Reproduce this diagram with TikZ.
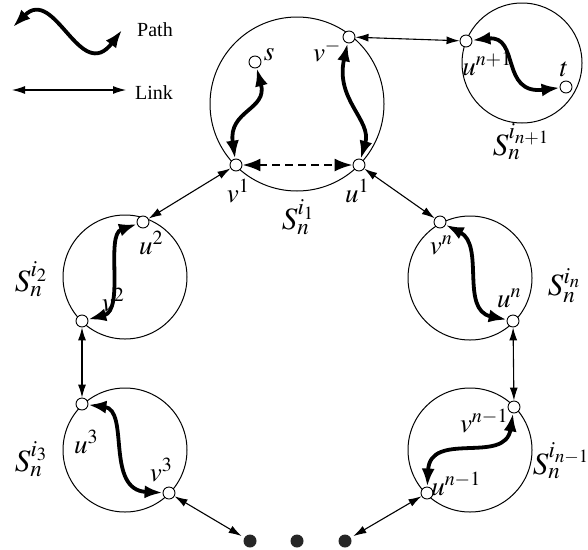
\documentclass[tikz,border=0pt]{standalone}
\usepackage{mathptmx}
\usepackage{fontspec}
\setmainfont{Liberation Serif}
\usetikzlibrary{arrows.meta}

\begin{document}
\begin{tikzpicture}[x=1pt, y=-1pt,
    vtx/.style={circle, draw, fill=white, line width=0.9pt, inner sep=0pt, minimum size=12pt},
    dotnode/.style={circle, fill=black!85, inner sep=0pt, minimum size=13pt},
    lnk/.style={line width=1.1pt, {Latex[length=13pt,width=8pt]}-{Latex[length=13pt,width=8pt]}},
    pth/.style={line width=3.8pt, {Latex[length=18pt,width=13pt]}-{Latex[length=18pt,width=13pt]}},
    lbl/.style={font=\fontsize{27}{29}\selectfont, inner sep=0pt},
    sub/.style={font=\fontsize{31}{33}\selectfont, inner sep=0pt},
    txt/.style={font=\fontsize{20}{22}\selectfont, inner sep=0pt, anchor=west}]
  \useasboundingbox (0,0) rectangle (588,549);

  % subgraphs
  \foreach \cx/\cy/\r in {297/104/87, 522/63/60, 125/277/62, 125/450/62, 470/278/62, 470/450/62}
    \draw[line width=1pt] (\cx,\cy) circle[radius=\r];

  % legend
  \coordinate (pathA) at (13,27);
  \coordinate (pathB) at (122,30);
  \coordinate (lnkA) at (12,90);
  \coordinate (lnkB) at (126,90);
  \draw[pth] (pathA) .. controls (55,-15) and (80,85) .. (pathB);
  \draw[lnk] (lnkA) -- (lnkB);
  \node[txt] (pathtxt) at (137,30) {Path};
  \node[txt] (linktxt) at (135,93) {Link};

  % vertices
  \node[vtx] (s) at (255,62) {};
  \node[vtx] (vm) at (349,37) {};
  \node[vtx] (v1) at (236,165) {};
  \node[vtx] (u1) at (359,165) {};
  \node[vtx] (unp) at (466,41) {};
  \node[vtx] (t) at (566,87) {};
  \node[vtx] (u2) at (143,222) {};
  \node[vtx] (v2) at (82,321) {};
  \node[vtx] (u3) at (82,404) {};
  \node[vtx] (v3) at (169,493) {};
  \node[vtx] (vn) at (440,222) {};
  \node[vtx] (un) at (513,321) {};
  \node[vtx] (vnm) at (514,407) {};
  \node[vtx] (unm) at (427,493) {};
  \node[dotnode] (d1) at (250,541) {};
  \node[dotnode] (d2) at (297,541) {};
  \node[dotnode] (d3) at (345,541) {};

  % labels
  \node[lbl] (ls) at (269,55) {$s$};
  \node[lbl] (lvm) at (327,51) {$v^{-}$};
  \node[lbl] (lv1) at (238,191) {$v^{1}$};
  \node[lbl] (lu1) at (357,191) {$u^{1}$};
  \node[sub] (lS1) at (298,217) {$S_n^{i_1}$};
  \node[lbl] (lunp) at (487,64) {$u^{n+1}$};
  \node[lbl] (lt) at (564,69) {$t$};
  \node[sub] (lSnp) at (521,142) {$S_n^{i_{n+1}}$};
  \node[lbl] (lu2) at (151,243) {$u^{2}$};
  \node[lbl] (lv2) at (113,300) {$v^{2}$};
  \node[sub] (lS2) at (31,279) {$S_n^{i_2}$};
  \node[lbl] (lvn) at (441,245) {$v^{n}$};
  \node[lbl] (lun) at (509,298) {$u^{n}$};
  \node[sub] (lSn) at (564,286) {$S_n^{i_n}$};
  \node[lbl] (lu3) at (86,442) {$u^{3}$};
  \node[lbl] (lv3) at (161,470) {$v^{3}$};
  \node[sub] (lS3) at (31,459) {$S_n^{i_3}$};
  \node[lbl] (lvnm) at (484,421) {$v^{n-1}$};
  \node[lbl] (lunm) at (456,484) {$u^{n-1}$};
  \node[sub] (lSnm) at (561,461) {$S_n^{i_{n-1}}$};

  % paths inside subgraphs
  \draw[pth] (s) .. controls (268,110) and (228,110) .. (v1);
  \draw[pth] (vm) .. controls (335,100) and (372,120) .. (u1);
  \draw[pth] (unp) .. controls (520,35) and (500,95) .. (t);
  \draw[pth] (u2) .. controls (105,235) and (125,310) .. (v2);
  \draw[pth] (vn) .. controls (485,245) and (460,310) .. (un);
  \draw[pth] (u3) .. controls (130,410) and (105,490) .. (v3);
  \draw[pth] (vnm) .. controls (505,465) and (430,430) .. (unm);
  \draw[pth, line width=2.4pt, dash pattern=on 8pt off 5pt] (v1) -- (u1);

  % links between subgraphs
  \draw[lnk] (vm) -- (unp);
  \draw[lnk] (v1) -- (u2);
  \draw[lnk] (u1) -- (vn);
  \draw[lnk] (v2) -- (u3);
  \draw[lnk] (un) -- (vnm);
  \draw[lnk, shorten >=3pt] (v3) -- (d1);
  \draw[lnk, shorten >=3pt] (unm) -- (d3);
\end{tikzpicture}
\end{document}
